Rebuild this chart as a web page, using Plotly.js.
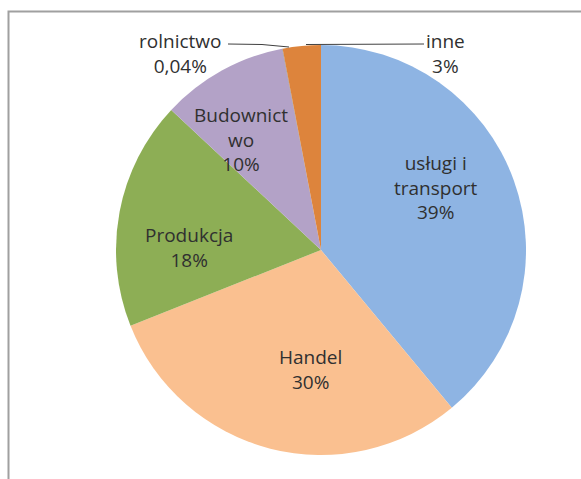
<!DOCTYPE html>
<html>
<head>
<meta charset="utf-8">
<script src="https://cdn.plot.ly/plotly-3.0.1.min.js"></script>
<style>html,body{margin:0;padding:0;background:#fff;}#chart{width:581px;height:479px;}</style>
</head>
<body>
<div id="chart"></div>
<script>
// Data
var categories = ['usługi i transport', 'Handel', 'Produkcja', 'Budownictwo', 'rolnictwo', 'inne'];
var displayNames = ['usługi i<br>transport', 'Handel', 'Produkcja', 'Budownict<br>wo', 'rolnictwo', 'inne'];
var values = [39, 30, 18, 10, 0.04, 3];
var percentLabels = ['39%', '30%', '18%', '10%', '0,04%', '3%'];

// Styling
var colors = ['#8EB4E3', '#FAC090', '#8DAE55', '#B3A2C7', '#7F7F7F', '#DD843C'];
var W = 581, H = 479;
var cx = 321, cy = 250, R = 205;
// label centres in pixels (layout only)
var labelPx = [[436, 187], [310, 369], [189, 248], [241, 139], [180, 53], [445, 53]];

function px(x) { return x / W; }
function py(y) { return 1 - y / H; }

var annotations = categories.map(function (c, i) {
  return {
    xref: 'paper', yref: 'paper',
    x: px(labelPx[i][0]), y: py(labelPx[i][1]),
    xanchor: 'center', yanchor: 'middle',
    text: displayNames[i] + '<br>' + percentLabels[i],
    showarrow: false,
    font: {family: 'Open Sans, sans-serif', size: 19, color: '#303030'},
    align: 'center'
  };
});

var shapes = [
  {type: 'rect', xref: 'paper', yref: 'paper',
   x0: px(8.5), x1: px(W + 20), y0: py(H + 20), y1: py(11.5),
   line: {color: '#A0A0A0', width: 2}, fillcolor: 'rgba(0,0,0,0)', layer: 'below'},
  {type: 'path', xref: 'paper', yref: 'paper',
   path: 'M ' + px(228) + ' ' + py(44) + ' L ' + px(262) + ' ' + py(44.5) + ' L ' + px(289) + ' ' + py(47),
   line: {color: '#404040', width: 1}},
  {type: 'path', xref: 'paper', yref: 'paper',
   path: 'M ' + px(306) + ' ' + py(44.5) + ' L ' + px(424) + ' ' + py(44),
   line: {color: '#404040', width: 1}}
];

var trace = {
  type: 'pie',
  labels: categories,
  values: values,
  sort: false,
  direction: 'clockwise',
  rotation: 0,
  textinfo: 'none',
  hoverinfo: 'label+percent',
  marker: {colors: colors, line: {width: 0}},
  domain: {x: [px(cx - R), px(cx + R)], y: [py(cy + R), py(cy - R)]},
  showlegend: false
};

var layout = {
  width: W, height: H,
  margin: {l: 0, r: 0, t: 0, b: 0},
  paper_bgcolor: '#ffffff',
  showlegend: false,
  annotations: annotations,
  shapes: shapes
};

Plotly.newPlot('chart', [trace], layout, {displayModeBar: false, staticPlot: true});
</script>
</body>
</html>
